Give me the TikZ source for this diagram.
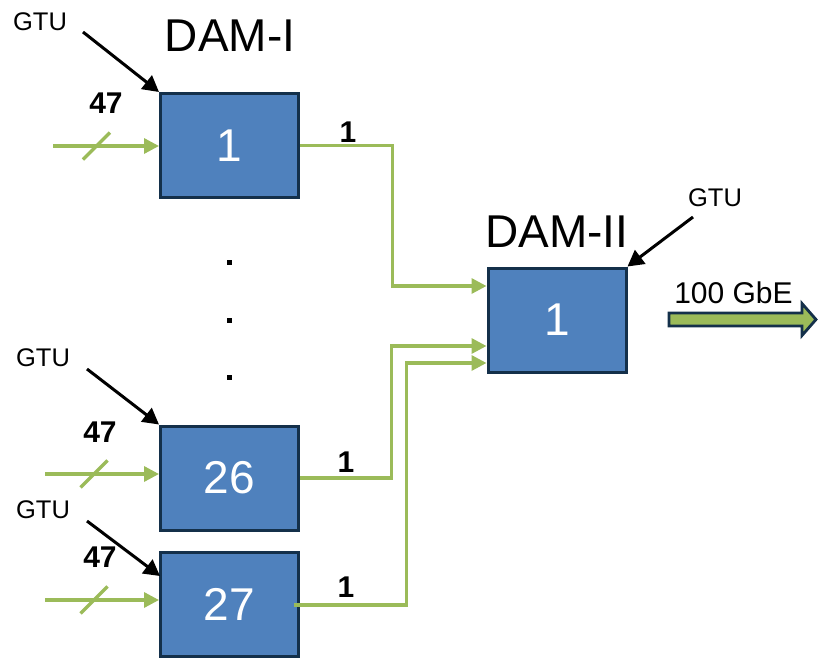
\documentclass[tikz,border=0pt]{standalone}
\usepackage{fontspec}
\setmainfont{Liberation Sans}
\usetikzlibrary{arrows.meta,calc}
\definecolor{boxfill}{HTML}{4F81BD}
\definecolor{boxline}{HTML}{14304A}
\definecolor{siggreen}{HTML}{9BBB59}
\tikzset{
  dambox/.style={draw=boxline,fill=boxfill,line width=3pt,minimum width=138pt,minimum height=104pt,inner sep=0pt,text=white,font=\fontsize{46}{50}\selectfont},
  sig/.style={draw=siggreen,line width=3.3pt,-{Triangle[length=15pt,width=15pt]}},
  slashline/.style={draw=siggreen,line width=3.3pt},
  gtuarrow/.style={draw=black,line width=3pt,-{Triangle[length=16pt,width=17pt]}},
  gtulabel/.style={inner sep=0pt,font=\fontsize{25.5}{28}\selectfont},
  buslabel/.style={inner sep=0pt,font=\fontsize{30}{32}\selectfont\bfseries},
  titlelabel/.style={inner sep=0pt,font=\fontsize{46}{50}\selectfont},
  dotmark/.style={fill=black,inner sep=0pt,minimum size=5pt},
  fatarrow/.style={fill=siggreen,draw=boxline,line width=2.8pt}
}
\begin{document}
\begin{tikzpicture}[x=1pt,y=-1pt]
        \useasboundingbox (0,0) rectangle (820,659);
        % DAM-I boxes
        \node[dambox] (dam1) at (229.5,145.5) {1};
        \node[dambox] (dam26) at (229.5,478) {26};
        \node[dambox] (dam27) at (229.5,604.5) {27};
        \node[titlelabel] (title1) at (230,36) {DAM-I};
        % DAM-II box
        \node[dambox] (damii) at (557,320) {1};
        \node[titlelabel] (titleii) at (557,232) {DAM-II};
        % dots between boxes
        \node[dotmark] (dot1) at (229,262) {};
        \node[dotmark] (dot2) at (229,320) {};
        \node[dotmark] (dot3) at (229,377) {};
        % inputs with 47 lines
        \coordinate (in1) at (53,146);
        \coordinate (in26) at (45,474);
        \coordinate (in27) at (45,600);
        \draw[sig] (in1) -- coordinate[pos=0.41] (s1) (in1 -| dam1.west);
        \draw[sig] (in26) -- coordinate[pos=0.43] (s26) (in26 -| dam26.west);
        \draw[sig] (in27) -- coordinate[pos=0.43] (s27) (in27 -| dam27.west);
        \draw[slashline] ($(s1)+(-13.5,13.5)$) -- ($(s1)+(13.5,-13.5)$);
        \draw[slashline] ($(s26)+(-13.5,13.5)$) -- ($(s26)+(13.5,-13.5)$);
        \draw[slashline] ($(s27)+(-13.5,13.5)$) -- ($(s27)+(13.5,-13.5)$);
        \node[buslabel] (n1) at (106,103) {47};
        \node[buslabel] (n26) at (100,432) {47};
        \node[buslabel] (n27) at (100,557) {47};
        % GTU clocks
        \node[gtulabel] (gtu1) at (40,22) {GTU};
        \node[gtulabel] (gtu26) at (43,358) {GTU};
        \node[gtulabel] (gtu27) at (43,510) {GTU};
        \node[gtulabel] (gtuii) at (715,198) {GTU};
        \draw[gtuarrow] ($(gtu1)+(43,10)$) -- (dam1.north west);
        \draw[gtuarrow] ($(gtu26)+(44,11)$) -- (dam26.north west);
        \draw[gtuarrow] ($(gtu27)+(44,11)$) -- ($(dam27.north west)+(1,25)$);
        \draw[gtuarrow] ($(gtuii)+(-22,19)$) -- (damii.north east);
        % outputs to DAM-II
        \draw[sig] (dam1.east) -| ($(damii.west)+(-94,-34)$) -- ($(damii.west)+(0,-34)$);
        \draw[sig] (dam26.east) -| ($(damii.west)+(-95,26)$) -- ($(damii.west)+(0,26)$);
        \draw[sig] ($(dam27.east)+(-6,0.5)$) -| ($(damii.west)+(-80,43)$) -- ($(damii.west)+(0,43)$);
        \node[buslabel] (o1) at (348,132) {1};
        \node[buslabel] (o26) at (346,462) {1};
        \node[buslabel] (o27) at (346,587) {1};
        % 100 GbE output
        \coordinate (gbe) at (669,319.5);
        \draw[fatarrow] ($(gbe)+(0,-6.5)$) -- ++(133,0) -- ++(0,-9.5) -- (816,319.5) -- (802,335.5) -- (802,326) -- ($(gbe)+(0,6.5)$) -- cycle;
        \node[gtulabel,font=\fontsize{30}{32}\selectfont] (gbetext) at (733.5,293) {100 GbE};
\end{tikzpicture}
\end{document}
